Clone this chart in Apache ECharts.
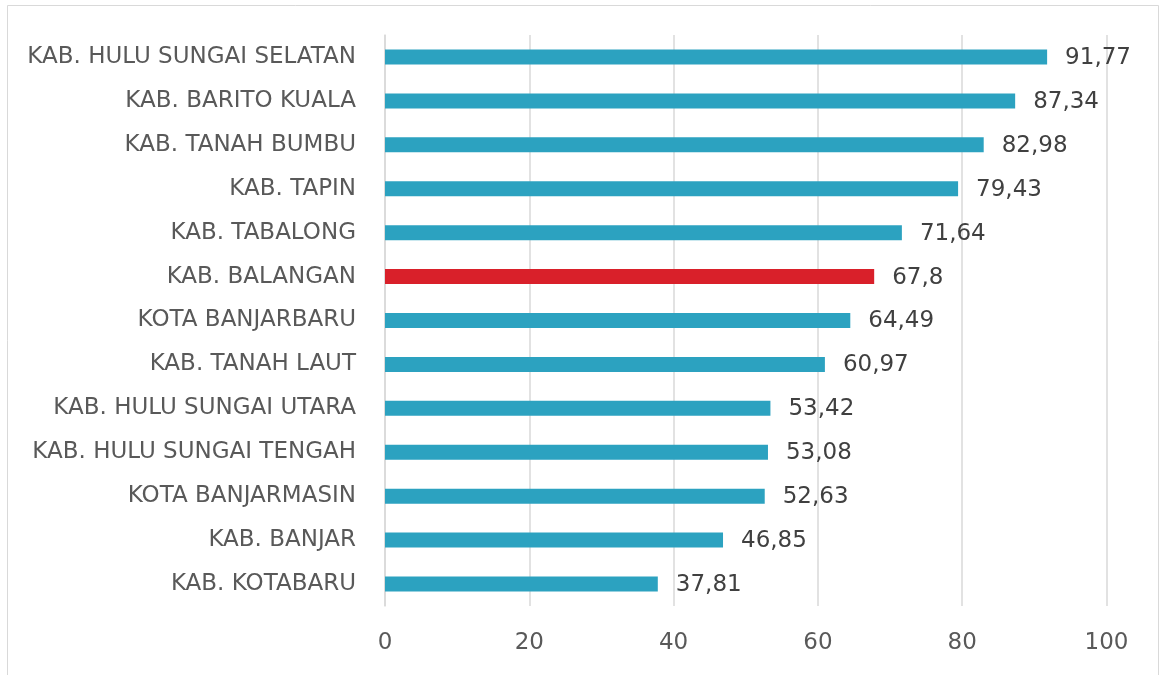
<!DOCTYPE html>
<html><head><meta charset="utf-8">
<script src="https://cdn.jsdelivr.net/npm/echarts@6/dist/echarts.min.js"></script>
<style>html,body{margin:0;padding:0;background:#fff}#c{width:1160px;height:675px}</style>
</head><body><div id="c"></div>
<script>
const categories = ["KAB. HULU SUNGAI SELATAN","KAB. BARITO KUALA","KAB. TANAH BUMBU","KAB. TAPIN","KAB. TABALONG","KAB. BALANGAN","KOTA BANJARBARU","KAB. TANAH LAUT","KAB. HULU SUNGAI UTARA","KAB. HULU SUNGAI TENGAH","KOTA BANJARMASIN","KAB. BANJAR","KAB. KOTABARU"];
const values = [91.77,87.34,82.98,79.43,71.64,67.8,64.49,60.97,53.42,53.08,52.63,46.85,37.81];
const highlight = "KAB. BALANGAN";
const xTicks = [0,20,40,60,80,100];

const FONT = "DejaVu Sans";
const chart = echarts.init(document.getElementById('c'), null, {renderer:'canvas'});
chart.setOption({
  animation:false,
  backgroundColor:'#fff',
  graphic:[{type:'rect',shape:{x:7.5,y:5.5,width:1151,height:700},style:{fill:'none',stroke:'#D9D9D9',lineWidth:1},silent:true}],
  grid:{left:385,right:53.5,top:35,bottom:69,containLabel:false},
  xAxis:{type:'value',min:xTicks[0],max:xTicks[xTicks.length-1],interval:20,
    axisLine:{show:false},axisTick:{show:false},
    splitLine:{show:true,lineStyle:{color:'#D9D9D9',width:1.5}},
    axisLabel:{color:'#595959',fontSize:23,fontFamily:FONT,margin:26}},
  yAxis:{type:'category',data:categories,inverse:true,
    axisLine:{show:true,lineStyle:{color:'#D9D9D9',width:1.5}},axisTick:{show:false},
    axisLabel:{color:'#595959',fontSize:23,fontFamily:FONT,margin:29}},
  series:[{type:'bar',barWidth:15,
    data:values.map((v,i)=>({value:v,itemStyle:{color:categories[i]===highlight?'#D9202A':'#2CA2C0'}})),
    label:{show:true,position:'right',distance:18,offset:[0,1],color:'#404040',fontSize:23,fontFamily:FONT,
      formatter:p=>String(p.value).replace('.',',')}}]
});
</script></body></html>
